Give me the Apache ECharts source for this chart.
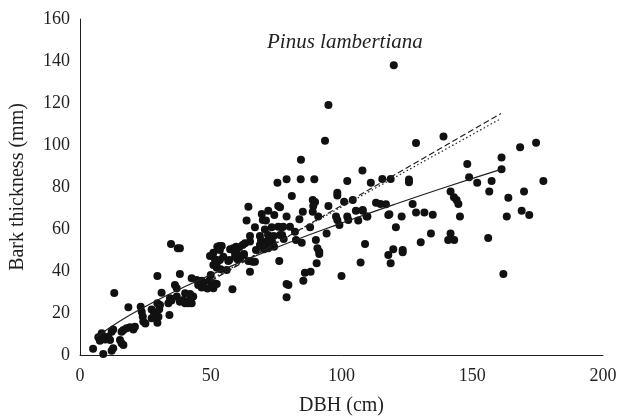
<!DOCTYPE html>
<html>
<head>
<meta charset="utf-8">
<script src="https://cdn.jsdelivr.net/npm/echarts@6/dist/echarts.min.js"></script>
<style>html,body{margin:0;padding:0;background:#fff}#c{width:623px;height:417px}</style>
</head>
<body>
<div id="c"></div>
<script>
const title = 'Pinus lambertiana';
const xName = 'DBH (cm)';
const yName = 'Bark thickness (mm)';

const treesSmall = [
[5,3],[7,8.5],[7.6,6.8],[8.3,10.3],[8.9,0.5],[9.6,7.4],[10.8,8.7],[11.5,7.1],[12.1,2],[12.7,3.2],
[12.1,11.1],[12.7,12.2],[13.1,29.5],[15.3,7.1],[15.9,5.6],[16.6,4.8],[15.9,11.1],[16.6,11.9],[17.8,12.7],[19.1,13.2],
[20.4,12.2],[21,13.5],[18.5,22.7],[23.2,23],[23.6,20.6],[24,18.3],[24.2,15.9],[27.4,21.7],[28.3,20.1],[29.6,24.6],
[30.6,23.8],[29.6,15.4],[29.6,37.6],[31.2,29.7],[33.8,24.6],[34.4,27],[35,25.9],[34.2,19],[36.3,33.3],[37,31.8],
[37,27.8],[38.2,38.6],[34.8,52.9],[37.4,50.8],[40.2,24.6],[42.1,26.2],[27.4,17.5],[30,18.2],[25,15],[30.3,21.8]
];
const treesMid = [
[38.2,25.4],[39.5,26.2],[40.2,29.4],[41.4,24.6],[42.7,24.6],[42.1,29],[43.3,27.8],[42.7,36.5],[44.6,35.7],[46.5,35.4],
[49.4,35.4],[45.2,33.3],[46.5,32.2],[51,31.8],[51.6,34.1],[52.3,33.8],[48.7,31.7],[50.4,32.9],[47.2,34.4],[50,38.1],
[51,42.9],[52.3,41.5],[53.8,40.8],[56.1,40.5],[51.6,45.6],[52.3,43.7],[53.5,45.2],[54.8,46.8],[56.7,44.8],[60.2,45.6],
[57.1,45.2],[59.3,46.8],[61.2,46],[62.7,47.6],[64.4,44.8],[66,44.4],[66.9,44.4],[65,39.7],[58.3,31.3],[76.2,44.8],
[79,33.8],[79,27.5],[51,48.7],[49.7,47.1],[52.5,51.6],[53.3,51.9],[54.2,51.9],[53.5,50],[57.4,50.3],[59.7,51.6],
[60.9,51.3],[62.2,52.4],[58.6,50.8],[63.1,53.2],[65,54],[59.3,48.4],[60.2,47.9],[62.7,48.1],[63.7,64],[64.4,70.6],
[65,56.7],[66.9,60.8],[68.8,56.7],[69.5,54],[71.6,54],[73.7,53.2],[68.8,52.4],[67.3,50],[70.4,50.3],[72,50.8],
[74.2,51.6],[72.4,52.1],[69.5,67.1],[72,68.7],[74.3,66.7],[75.8,71],[79,65.9],[69.9,64.3],[71.1,64],[70.7,59.8],
[73.3,60.8],[75.8,61.1],[77.1,60.8],[73.3,56.3],[76.5,57.1],[71.9,57.1],[74.1,56.7],[77.3,57.1],[77.9,55.2],[80.3,61.1],
[75.5,82],[38.2,50.8],[69.2,54.4],[69.2,51.9]
];
const treesLarge = [
[95,119],[93.7,102],[84.5,93],[79,83.7],[84.4,83.7],[89.6,83.7],[108,87.8],[102.2,82.9],[111.2,82],[115.6,83.8],
[118.8,83.8],[81,75.7],[98.4,77.3],[98.4,76],[89,73.8],[89.9,72.8],[89.2,71],[89,68.2],[95,71],[101,73],
[104.3,73.8],[76.5,70.3],[85.2,68.2],[83.9,64.6],[91.1,65.9],[97.9,65.9],[98.4,64.3],[102.2,65.9],[102.6,64.3],[105.5,68.7],
[108.1,68.7],[106.4,64],[109.9,65.9],[99.2,61.9],[117.9,66.7],[120.8,60.8],[77.7,61.1],[82.2,58.7],[88,60.8],[94.3,57.9],
[82.6,54.8],[84.8,53.5],[90.2,54.8],[90.8,50.8],[91.5,49.2],[91.5,48.1],[90.5,43.7],[86,39.2],[88.2,39.7],[85.4,35.4],
[79.7,33.3],[100,37.6],[107.3,44],[109,52.9],
[120,138],[128.5,101],[139,104],[148.1,91],[148.8,84.6],[151.9,82],[125.8,83.6],[125.8,82.3],[113.2,72.5],[114.9,71.9],
[117,71.8],[127.2,71.9],[108.1,69],[109.6,65.9],[118.3,67],[123,65.9],[128.5,67.8],[131.7,67.8],[134.9,66.8],[141.7,77.8],
[143,75.1],[144,73.8],[144.7,71.9],[145.3,65.9],[134.2,57.9],[141.7,57.9],[140.8,54.8],[143.1,54.8],[130.3,53.7],[119.8,50.3],
[117.9,47.6],[123.4,50],[123.4,48.9],[118.8,43.7],
[168.3,98.9],[174.4,101.1],[161.2,94],[161.2,88.4],[157.4,82.9],[177.2,82.9],[156.5,77.8],[169.8,77.8],[163.8,74.9],[168.9,68.7],
[171.8,66.7],[163.2,65.9],[156.1,55.7],[161.9,38.6]
];

// fitted curves
const solidFit = [[6,8.3],[15,16],[25,23.1],[40,32.5],[60,43.5],[80,53.6],[100,62.8],[120,71.6],[140,80],[161,88.4]];
const dashedFit = [[50,35.3],[161,115]];
const dottedFit = [[50,36],[161,112.6]];

const ink = '#231f20';
const font = '"Liberation Serif", "DejaVu Serif", serif';
const chart = echarts.init(document.getElementById('c'));
chart.setOption({
  animation: false,
  backgroundColor: '#fff',
  grid: { left: 80, right: 20, top: 19, bottom: 62, outerBoundsMode: 'none', containLabel: false },
  graphic: [{
    type: 'text', left: 267, top: 32,
    style: { text: title, font: 'italic 21px ' + font, fill: ink }
  }],
  xAxis: {
    type: 'value', min: 0, max: 200, interval: 50,
    name: xName, nameLocation: 'middle', nameGap: 41,
    nameTextStyle: { fontFamily: font, fontSize: 20, color: ink },
    axisLine: { show: true, lineStyle: { color: ink, width: 1 } },
    axisTick: { show: false }, splitLine: { show: false },
    axisLabel: { fontFamily: font, fontSize: 18, color: ink, margin: 12 }
  },
  yAxis: {
    type: 'value', min: 0, max: 160, interval: 20,
    name: yName, nameLocation: 'middle', nameGap: 52,
    nameTextStyle: { fontFamily: font, fontSize: 20, color: ink },
    axisLine: { show: true, lineStyle: { color: ink, width: 1 } },
    axisTick: { show: false }, splitLine: { show: false },
    axisLabel: { fontFamily: font, fontSize: 18, color: ink, margin: 10 }
  },
  series: [
    { type: 'scatter', data: treesSmall.concat(treesMid, treesLarge), symbolSize: 8, itemStyle: { color: '#111', opacity: 1 }, z: 2 },
    { type: 'line', data: solidFit, smooth: true, showSymbol: false, lineStyle: { color: ink, width: 1.2 }, z: 3 },
    { type: 'line', data: dashedFit, showSymbol: false, lineStyle: { color: ink, width: 1.2, type: [6, 3] }, z: 3 },
    { type: 'line', data: dottedFit, showSymbol: false, lineStyle: { color: ink, width: 1.2, type: [1.5, 2.5] }, z: 3 }
  ]
});
</script>
</body>
</html>
